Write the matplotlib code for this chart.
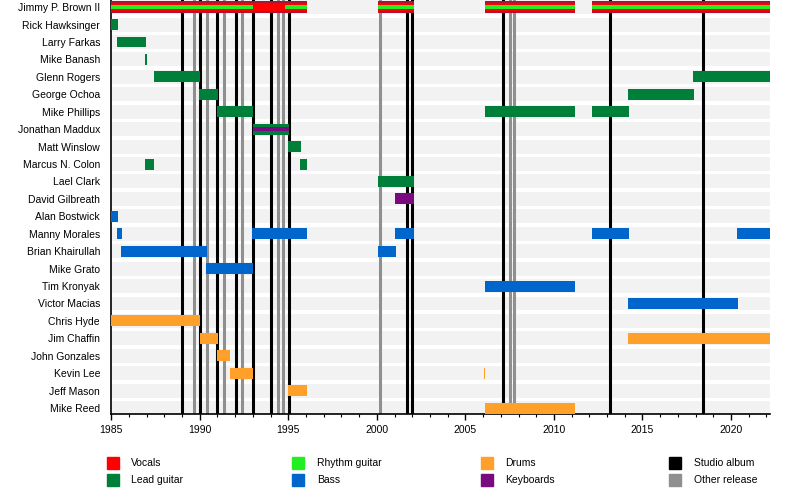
import numpy as np
import matplotlib
matplotlib.use("Agg")
from matplotlib import pyplot as plt
from matplotlib.patches import Rectangle

plt.rcParams['font.family'] = ['Liberation Sans', 'DejaVu Sans']

members = ["Jimmy P. Brown II", "Rick Hawksinger", "Larry Farkas", "Mike Banash",
           "Glenn Rogers", "George Ochoa", "Mike Phillips", "Jonathan Maddux",
           "Matt Winslow", "Marcus N. Colon", "Lael Clark", "David Gilbreath",
           "Alan Bostwick", "Manny Morales", "Brian Khairullah", "Mike Grato",
           "Tim Kronyak", "Victor Macias", "Chris Hyde", "Jim Chaffin",
           "John Gonzales", "Kevin Lee", "Jeff Mason", "Mike Reed"]

# (member, start, end)
vocals = [("Jimmy P. Brown II", 1985.0, 1996.05), ("Jimmy P. Brown II", 2000.04, 2002.1),
          ("Jimmy P. Brown II", 2006.1, 2011.2), ("Jimmy P. Brown II", 2012.15, 2022.2)]
rhythm_guitar = [("Jimmy P. Brown II", 1985.0, 1993.0), ("Jimmy P. Brown II", 1994.8, 1996.05),
                 ("Jimmy P. Brown II", 2000.04, 2002.1), ("Jimmy P. Brown II", 2006.1, 2011.2),
                 ("Jimmy P. Brown II", 2012.15, 2022.2)]
lead_guitar = [("Rick Hawksinger", 1985.0, 1985.4), ("Larry Farkas", 1985.32, 1986.98),
               ("Mike Banash", 1986.93, 1987.0), ("Glenn Rogers", 1987.39, 1990.02),
               ("Glenn Rogers", 2017.87, 2022.2), ("George Ochoa", 1989.97, 1991.04),
               ("George Ochoa", 2014.2, 2017.9), ("Mike Phillips", 1991.0, 1993.02),
               ("Mike Phillips", 2006.11, 2011.19), ("Mike Phillips", 2012.15, 2014.24),
               ("Jonathan Maddux", 1992.98, 1995.05), ("Matt Winslow", 1995.0, 1995.73),
               ("Marcus N. Colon", 1986.92, 1987.43), ("Marcus N. Colon", 1995.67, 1996.05),
               ("Lael Clark", 2000.04, 2002.1)]
keyboards = [("Jonathan Maddux", 1992.98, 1995.05), ("David Gilbreath", 2001.05, 2002.1)]
bass = [("Alan Bostwick", 1985.0, 1985.38), ("Manny Morales", 1985.32, 1985.62),
        ("Manny Morales", 1992.96, 1996.05), ("Manny Morales", 2001.05, 2002.1),
        ("Manny Morales", 2012.17, 2014.24), ("Manny Morales", 2020.34, 2022.2),
        ("Brian Khairullah", 1985.56, 1990.4), ("Brian Khairullah", 2000.04, 2001.09),
        ("Mike Grato", 1990.36, 1993.02), ("Tim Kronyak", 2006.1, 2011.2),
        ("Victor Macias", 2014.2, 2020.4)]
drums = [("Chris Hyde", 1985.0, 1990.02), ("Jim Chaffin", 1990.0, 1991.04),
         ("Jim Chaffin", 2014.2, 2022.2), ("John Gonzales", 1991.0, 1991.72),
         ("Kevin Lee", 1991.68, 1993.02), ("Kevin Lee", 2006.05, 2006.12),
         ("Jeff Mason", 1995.0, 1996.06), ("Mike Reed", 2006.1, 2011.2)]

studio_albums = [1988.99, 1990.02, 1991.0, 1992.02, 1992.98, 1994.02, 1995.03,
                 2001.73, 2002.01, 2007.15, 2013.17, 2018.4]
other_releases = [1989.65, 1990.4, 1991.38, 1992.41, 1994.41, 1994.69, 2000.19,
                  2007.52, 2007.75]

start_year, end_year = 1985.0, 2022.2

colors = {"Vocals": "#ff0000", "Lead guitar": "#007f3a", "Rhythm guitar": "#22ee22",
          "Bass": "#0066cc", "Drums": "#ffa02a", "Keyboards": "#7a0a80",
          "Studio album": "#000000", "Other release": "#8f8f8f"}

row = {name: i for i, name in enumerate(members)}


def draw_bars(ax, spans, color, height, z):
    for name, s, e in spans:
        ax.barh(row[name], e - s, left=s, height=height, color=color,
                zorder=z, linewidth=0)


fig = plt.figure(figsize=(8, 5.04), dpi=100)
ax = fig.add_axes([0.139, 0.1786, 0.9625 - 0.139, 0.8214])

# row background stripes
for i in range(len(members)):
    ax.barh(i, end_year - start_year, left=start_year, height=0.8,
            color="#f2f2f2", zorder=0, linewidth=0)

for x in other_releases:
    ax.axvline(x, color=colors["Other release"], lw=2.2, zorder=1)
for x in studio_albums:
    ax.axvline(x, color=colors["Studio album"], lw=2.2, zorder=1)

# vocals: dark rim, red body
draw_bars(ax, vocals, "#b3122e", 0.65, 3)
draw_bars(ax, vocals, colors["Vocals"], 0.46, 3.5)
draw_bars(ax, rhythm_guitar, colors["Rhythm guitar"], 0.27, 4)
draw_bars(ax, lead_guitar, colors["Lead guitar"], 0.63, 3)
draw_bars(ax, bass, colors["Bass"], 0.63, 3)
draw_bars(ax, drums, colors["Drums"], 0.63, 3)
solo_keys = [k for k in keyboards if k[0] != "Jonathan Maddux"]
stripe_keys = [k for k in keyboards if k[0] == "Jonathan Maddux"]
draw_bars(ax, solo_keys, colors["Keyboards"], 0.63, 3)
draw_bars(ax, stripe_keys, colors["Keyboards"], 0.2, 4)

ax.set_xlim(start_year, end_year)
ax.set_ylim(23.34, -0.41)
ax.set_yticks(range(len(members)))
ax.set_yticklabels(members, fontsize=7.5)
ax.tick_params(axis="y", length=0, pad=8)
ax.set_xticks(np.arange(1985, 2021, 5))
ax.set_xticks(np.arange(1985, 2023, 1), minor=True)
ax.tick_params(axis="x", which="major", length=4, width=1, labelsize=7.5, pad=4)
ax.tick_params(axis="x", which="minor", length=2.5, width=0.8)
for sp in ("top", "right"):
    ax.spines[sp].set_visible(False)
ax.spines["left"].set_linewidth(1.2)
ax.spines["bottom"].set_linewidth(1.2)

# legend
legend_cols = [(0.141, ["Vocals", "Lead guitar"]),
               (0.373, ["Rhythm guitar", "Bass"]),
               (0.609, ["Drums", "Keyboards"]),
               (0.844, ["Studio album", "Other release"])]
for x0, labels in legend_cols:
    for j, lab in enumerate(labels):
        y0 = 1 - (463 + j * 17) / 504
        fig.add_artist(Rectangle((x0 - 0.0075, y0 - 0.012), 0.015, 0.024,
                                 transform=fig.transFigure, color=colors[lab]))
        fig.text(x0 + 0.023, y0, lab, fontsize=7.5, va="center", ha="left")

fig.savefig("out.png", dpi=100)
